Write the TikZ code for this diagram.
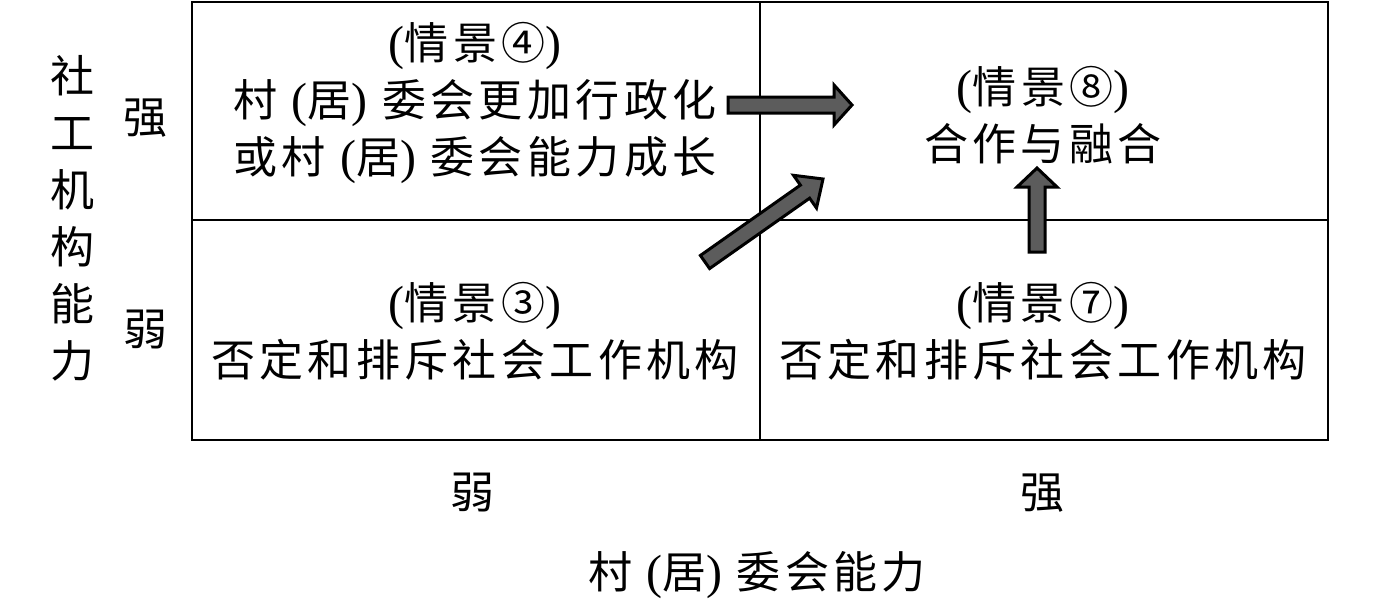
\documentclass[tikz,border=0pt]{standalone}
\usepackage{fontspec}
\setmainfont{Liberation Serif}
\newfontfamily\cjk[LetterSpace=10]{Noto Sans CJK SC}
\usetikzlibrary{calc}
\newcommand\opar{{\rmfamily\fontsize{48}{57}\selectfont(}}
\newcommand\cpar{{\rmfamily\fontsize{48}{57}\selectfont)}}
\newcommand\myblkarrow[4]{% start, end, half shaft, head length
  \coordinate (hb) at ($(#2)!#4!(#1)$);
  \draw[blk] ($(#1)!#3!90:(#2)$) -- ($(hb)!#3!-90:(#1)$) -- ($(hb)!20pt!-90:(#1)$) -- (#2)
     -- ($(hb)!20pt!90:(#1)$) -- ($(hb)!#3!90:(#1)$) -- ($(#1)!#3!-90:(#2)$) -- cycle;}
\begin{document}
\begin{tikzpicture}[x=1pt,y=-1pt,
  txt/.style={align=center,inner sep=0pt,font=\cjk\fontsize{44}{57}\selectfont},
  grid/.style={draw=black,line width=2pt},
  blk/.style={fill=black!64,draw=black,line width=3pt,line join=miter}]
\useasboundingbox[fill=white] (0,0) rectangle (1378,606);
\draw[grid] (192,2) rectangle (1328,440);
\draw[grid] (760,2) -- (760,440);
\draw[grid] (192,220) -- (1328,220);
% cell texts
\node[txt] (s4) at (475,103) {\opar 情景④\cpar\\村 \opar 居\cpar\ 委会更加行政化\\或村 \opar 居\cpar\ 委会能力成长};
\node[txt] (s8) at (1043,115) {\opar 情景⑧\cpar\\合作与融合};
\node[txt] (s3) at (475,331) {\opar 情景③\cpar\\否定和排斥社会工作机构};
\node[txt] (s7) at (1043,331) {\opar 情景⑦\cpar\\否定和排斥社会工作机构};
% axis labels
\node[txt] (ylab) at (72,218) {社\\工\\机\\构\\能\\力};
\node[txt] (ystrong) at (145,118) {强};
\node[txt] (yweak) at (145,330) {弱};
\node[txt] (xweak) at (472,493) {弱};
\node[txt] (xstrong) at (1042,493) {强};
\node[txt] (xlab) at (757,575) {村 \opar 居\cpar\ 委会能力};
% block arrows
\coordinate (a1s) at (728,105); \coordinate (a1e) at (852,105);
\coordinate (a2s) at (705,262); \coordinate (a2e) at (823,179);
\coordinate (a3s) at (1037,252); \coordinate (a3e) at (1037,168);
\myblkarrow{a1s}{a1e}{8pt}{18pt}
\myblkarrow{a2s}{a2e}{8pt}{22pt}
\myblkarrow{a3s}{a3e}{8pt}{19pt}
\end{tikzpicture}
\end{document}
